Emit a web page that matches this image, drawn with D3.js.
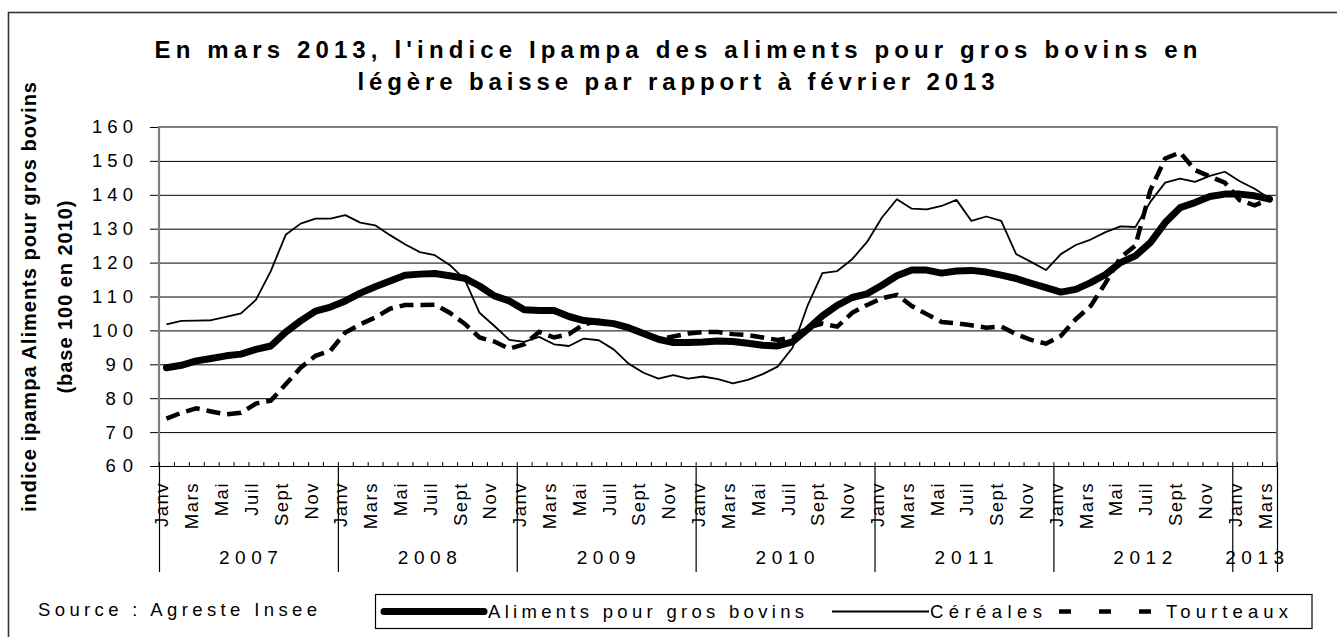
<!DOCTYPE html>
<html>
<head>
<meta charset="utf-8">
<script src="https://cdn.jsdelivr.net/npm/d3@7"></script>
<style>
	body { margin: 0; background: #fff; }
	svg text { font-family: "Liberation Sans", Arial, sans-serif; fill: #000; }
</style>
</head>
<body>
<svg id="chart" width="1337" height="637"></svg>
<script>
var years = [2007, 2008, 2009, 2010, 2011, 2012, 2013];
var monthNames = ["Janv", "Févr", "Mars", "Avr", "Mai", "Juin", "Juil", "Août", "Sept", "Oct", "Nov", "Déc"];
var monthsIn2013 = 3;
var yTicks = [60, 70, 80, 90, 100, 110, 120, 130, 140, 150, 160];

var aliments = [
	89.0, 89.7, 91.0, 91.7, 92.5, 93.0, 94.4, 95.4, 99.5, 102.8, 105.7, 106.9,
	108.7, 111.0, 112.9, 114.6, 116.3, 116.6, 116.8, 116.1, 115.4, 113.1, 110.2, 108.7,
	106.1, 105.9, 105.9, 104.1, 102.9, 102.5, 102.0, 100.8, 99.1, 97.4, 96.4, 96.4,
	96.6, 96.9, 96.7, 96.2, 95.6, 95.4, 96.6, 100.3, 104.3, 107.4, 109.7, 110.8,
	113.3, 116.1, 117.8, 117.8, 116.9, 117.5, 117.7, 117.2, 116.3, 115.3, 113.9, 112.6,
	111.3, 112.1, 114.1, 116.5, 120.0, 122.0, 125.9, 131.8, 136.2, 137.7, 139.5, 140.2,
	140.2, 139.7, 138.7
];
var cereales = [
	101.8, 102.8, 102.9, 103.0, 104.0, 105.0, 109.0, 117.5, 128.2, 131.5, 133.0, 133.0,
	134.0, 131.8, 131.0, 128.1, 125.4, 123.1, 122.2, 119.3, 115.1, 105.2, 101.3, 97.2,
	96.6, 98.1, 95.9, 95.4, 97.6, 97.1, 94.4, 90.2, 87.5, 85.8, 86.8, 85.8,
	86.4, 85.6, 84.4, 85.4, 87.1, 89.3, 94.9, 107.2, 116.9, 117.5, 121.0, 126.1,
	133.3, 138.7, 135.9, 135.7, 136.7, 138.5, 132.3, 133.6, 132.3, 122.5, 120.2, 117.8,
	122.5, 125.2, 126.8, 129.0, 130.7, 130.5, 137.9, 143.6, 144.8, 143.8, 145.6, 146.8,
	144.0, 141.8, 138.9
];
var tourteaux = [
	74.0, 75.7, 77.0, 76.1, 75.2, 75.7, 78.4, 79.3, 84.1, 89.0, 92.5, 94.0,
	99.4, 101.8, 103.8, 106.4, 107.5, 107.5, 107.6, 105.2, 102.0, 97.9, 96.7, 94.6,
	95.9, 99.6, 97.9, 98.9, 101.8, 102.8, 101.8, 101.0, 99.3, 97.4, 98.2, 99.1,
	99.5, 99.5, 98.9, 98.6, 97.9, 97.2, 97.9, 100.8, 102.0, 101.1, 105.2, 107.5,
	109.5, 110.5, 107.2, 104.8, 102.5, 102.1, 101.5, 100.8, 101.1, 98.9, 97.2, 96.1,
	98.4, 103.3, 107.2, 114.0, 121.5, 125.0, 141.3, 150.7, 152.5, 147.3, 145.4, 143.6,
	138.4, 136.9, 138.7
];

// categories : one per month
var categories = [];
years.forEach(function(yr) {
	var n = (yr == 2013) ? monthsIn2013 : 12;
	for (var m = 0; m < n; m++) categories.push({ year: yr, month: m, label: monthNames[m] });
});
var N = categories.length;

var svg = d3.select("#chart");
var x0 = 159, x1 = 1277, y0 = 127, y1 = 466;

svg.append("rect").attr("width", 1337).attr("height", 637).attr("fill", "#fff");
// outer frame (cut by the picture on right and bottom)
svg.append("rect")
	.attr("x", 8.5).attr("y", 12.5).attr("width", 1345).attr("height", 640)
	.attr("fill", "none").attr("stroke", "#333").attr("stroke-width", 1.6);

var x = d3.scaleBand().domain(d3.range(N)).range([x0, x1]).padding(0);
var xb = d3.scaleLinear().domain([0, N]).range([x0, x1]);
var y = d3.scaleLinear().domain([60, 160]).range([y1, y0]);
var cx = function(i) { return x(i) + x.bandwidth() / 2; };

// title
var title = svg.append("g").attr("font-weight", "bold").attr("font-size", "24px").attr("text-anchor", "middle");
title.append("text").attr("x", 676).attr("y", 57.5)
	.attr("textLength", 1043).attr("lengthAdjust", "spacing")
	.text("En mars 2013, l'indice Ipampa des aliments pour gros bovins en");
title.append("text").attr("x", 676).attr("y", 89.5)
	.attr("textLength", 637).attr("lengthAdjust", "spacing")
	.text("légère baisse par rapport à février 2013");

// y axis title
var yt = svg.append("g").attr("font-weight", "bold").attr("font-size", "20px").attr("text-anchor", "middle");
yt.append("text").attr("transform", "translate(36,297) rotate(-90)")
	.attr("textLength", 430).attr("lengthAdjust", "spacing")
	.text("indice ipampa Aliments pour gros bovins");
yt.append("text").attr("transform", "translate(71.5,297) rotate(-90)")
	.attr("textLength", 193).attr("lengthAdjust", "spacing")
	.text("(base 100 en 2010)");

// gridlines
svg.append("g")
	.attr("transform", "translate(" + x0 + ",0)")
	.call(d3.axisLeft(y).tickValues(yTicks.slice(0, -1)).tickSize(-(x1 - x0)).tickFormat(""))
	.call(function(g) { g.select(".domain").remove(); })
	.selectAll("line").attr("stroke", "#000").attr("stroke-width", 1);

// y axis
var yAxis = svg.append("g")
	.attr("transform", "translate(" + x0 + ",0)")
	.call(d3.axisLeft(y).tickValues(yTicks).tickSize(9).tickPadding(17));
yAxis.select(".domain").remove();
yAxis.selectAll("line").attr("stroke", "#000");
yAxis.selectAll("text")
	.attr("font-size", "18.5px")
	.attr("font-family", "Liberation Sans, Arial, sans-serif")
	.attr("textLength", function(d) { return String(d).length * 13.7; })
	.attr("lengthAdjust", "spacing");

// plot frame: top, right, left in grey
svg.append("path")
	.attr("d", "M" + x0 + "," + y1 + "V" + y0 + "H" + x1 + "V" + y1)
	.attr("fill", "none").attr("stroke", "#808080").attr("stroke-width", 2.2);

// x axis line + minor ticks pointing inside
var xMinor = svg.append("g")
	.attr("transform", "translate(0," + y1 + ")")
	.call(d3.axisTop(xb).tickValues(d3.range(0, N + 1)).tickSize(4).tickSizeOuter(0).tickFormat(""));
xMinor.select(".domain").attr("stroke", "#000").attr("stroke-width", 1.2);
xMinor.selectAll("line").attr("stroke", "#000");

// year separators
var yearStarts = [];
categories.forEach(function(c, i) { if (c.month == 0) yearStarts.push(i); });
var xYear = svg.append("g")
	.attr("transform", "translate(0," + y1 + ")")
	.call(d3.axisBottom(xb).tickValues(yearStarts.concat([N])).tickSize(106).tickFormat(""));
xYear.select(".domain").remove();
xYear.selectAll("line").attr("stroke", "#000").attr("stroke-width", 1.2);

// month labels (every 2 months)
svg.append("g").attr("font-size", "18.5px").attr("text-anchor", "end").attr("letter-spacing", "1.5px")
	.selectAll("text")
	.data(categories.map(function(c, i) { return { c: c, i: i }; }).filter(function(d) { return d.i % 2 == 0; }))
	.join("text")
	.attr("transform", function(d) { return "translate(" + (cx(d.i) - 4.5) + ",482) rotate(-90)"; })
	.attr("dy", "0.35em")
	.text(function(d) { return d.c.label; });

// year labels
svg.append("g").attr("font-size", "19px").attr("text-anchor", "middle")
	.selectAll("text")
	.data(years)
	.join("text")
	.attr("x", function(yr, k) {
		var a = yearStarts[k], b = (k + 1 < yearStarts.length) ? yearStarts[k + 1] : N;
		return (xb(a) + xb(b)) / 2;
	})
	.attr("y", 564)
	.attr("textLength", 59).attr("lengthAdjust", "spacing")
	.text(function(yr) { return yr; });

// series
var line = d3.line().x(function(d, i) { return cx(i); }).y(function(d) { return y(d); });

svg.append("path").datum(tourteaux)
	.attr("d", line).attr("fill", "none").attr("stroke", "#000")
	.attr("stroke-width", 4.5).attr("stroke-dasharray", "14,7");
svg.append("path").datum(cereales)
	.attr("d", line).attr("fill", "none").attr("stroke", "#000")
	.attr("stroke-width", 1.8).attr("stroke-linejoin", "round");
svg.append("path").datum(aliments)
	.attr("d", line).attr("fill", "none").attr("stroke", "#000")
	.attr("stroke-width", 7).attr("stroke-linejoin", "round").attr("stroke-linecap", "round");

// source
svg.append("text").attr("x", 38).attr("y", 616).attr("font-size", "18.5px")
	.attr("textLength", 279).attr("lengthAdjust", "spacing")
	.text("Source : Agreste Insee");

// legend
var legend = svg.append("g");
legend.append("rect").attr("x", 375.5).attr("y", 594.5).attr("width", 936.5).attr("height", 34)
	.attr("fill", "#fff").attr("stroke", "#000").attr("stroke-width", 1.2);
legend.append("line").attr("x1", 384).attr("x2", 484).attr("y1", 611.5).attr("y2", 611.5)
	.attr("stroke", "#000").attr("stroke-width", 7).attr("stroke-linecap", "round");
legend.append("text").attr("x", 488).attr("y", 618).attr("font-size", "18.5px")
	.attr("textLength", 316).attr("lengthAdjust", "spacing").text("Aliments pour gros bovins");
legend.append("line").attr("x1", 832).attr("x2", 929).attr("y1", 611.5).attr("y2", 611.5)
	.attr("stroke", "#000").attr("stroke-width", 1.8);
legend.append("text").attr("x", 930).attr("y", 618).attr("font-size", "18.5px")
	.attr("textLength", 112).attr("lengthAdjust", "spacing").text("Céréales");
legend.append("line").attr("x1", 1059).attr("x2", 1153).attr("y1", 611.5).attr("y2", 611.5)
	.attr("stroke", "#000").attr("stroke-width", 4.5).attr("stroke-dasharray", "12,28");
legend.append("text").attr("x", 1166).attr("y", 618).attr("font-size", "18.5px")
	.attr("textLength", 122).attr("lengthAdjust", "spacing").text("Tourteaux");
</script>
</body>
</html>
